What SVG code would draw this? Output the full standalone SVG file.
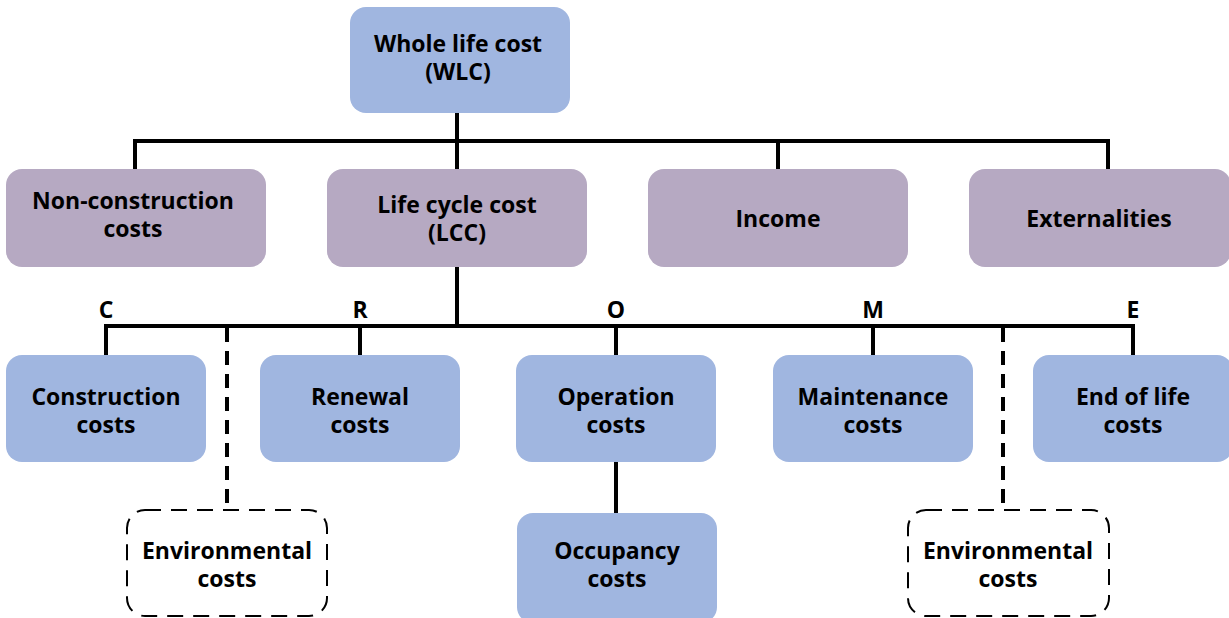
<svg xmlns="http://www.w3.org/2000/svg" width="1229" height="618" viewBox="0 0 1229 618">
<style>
text{font-family:"Open Sans","Noto Sans","Liberation Sans",sans-serif;font-weight:bold;font-size:23px;fill:#000;text-anchor:middle}
.blue{fill:#A0B6E0}
.purple{fill:#B6A9C2}
.env{fill:#fff;stroke:#000;stroke-width:2;stroke-dasharray:16 10}
.line{stroke:#000;stroke-width:4;fill:none}
.dash{stroke:#000;stroke-width:4;fill:none;stroke-dasharray:14 9}
</style>
<g id="connectors">
<path class="line" d="M457 113V169M135 141H1108M135 139V169M778 139V169M1108 139V169"/>
<path class="line" d="M457 267V326M106 326H1133M106 324V355M360 324V355M616 324V355M873 324V355M1133 324V355"/>
<path class="line" d="M616 462V513"/>
<path class="dash" d="M227 328V509M1003 328V509"/>
<text x="106" y="318">C</text>
<text x="360" y="318">R</text>
<text x="616" y="318">O</text>
<text x="873" y="318">M</text>
<text x="1133" y="318">E</text>
</g>
<g id="wlc"><rect class="blue" x="350" y="7" width="220" height="106" rx="16"/><text x="458" y="52">Whole life cost</text><text x="458" y="80">(WLC)</text></g>
<g id="nonconstruction"><rect class="purple" x="6" y="169" width="260" height="98" rx="16"/><text x="133" y="209">Non-construction</text><text x="133" y="237">costs</text></g>
<g id="lcc"><rect class="purple" x="327" y="169" width="260" height="98" rx="16"/><text x="457" y="213">Life cycle cost</text><text x="457" y="241">(LCC)</text></g>
<g id="income"><rect class="purple" x="648" y="169" width="260" height="98" rx="16"/><text x="778" y="227">Income</text></g>
<g id="externalities"><rect class="purple" x="969" y="169" width="262" height="98" rx="16"/><text x="1099" y="227">Externalities</text></g>
<g id="construction"><rect class="blue" x="6" y="355" width="200" height="107" rx="16"/><text x="106" y="405">Construction</text><text x="106" y="433">costs</text></g>
<g id="renewal"><rect class="blue" x="260" y="355" width="200" height="107" rx="16"/><text x="360" y="405">Renewal</text><text x="360" y="433">costs</text></g>
<g id="operation"><rect class="blue" x="516" y="355" width="200" height="107" rx="16"/><text x="616" y="405">Operation</text><text x="616" y="433">costs</text></g>
<g id="maintenance"><rect class="blue" x="773" y="355" width="200" height="107" rx="16"/><text x="873" y="405">Maintenance</text><text x="873" y="433">costs</text></g>
<g id="endoflife"><rect class="blue" x="1033" y="355" width="200" height="107" rx="16"/><text x="1133" y="405">End of life</text><text x="1133" y="433">costs</text></g>
<g id="occupancy"><rect class="blue" x="517" y="513" width="200" height="110" rx="16"/><text x="617" y="559">Occupancy</text><text x="617" y="587">costs</text></g>
<g id="env1"><rect class="env" x="127" y="510" width="200" height="106" rx="18"/><text x="227" y="559">Environmental</text><text x="227" y="587">costs</text></g>
<g id="env2"><rect class="env" x="908" y="510" width="201" height="106" rx="18"/><text x="1008" y="559">Environmental</text><text x="1008" y="587">costs</text></g>
</svg>
